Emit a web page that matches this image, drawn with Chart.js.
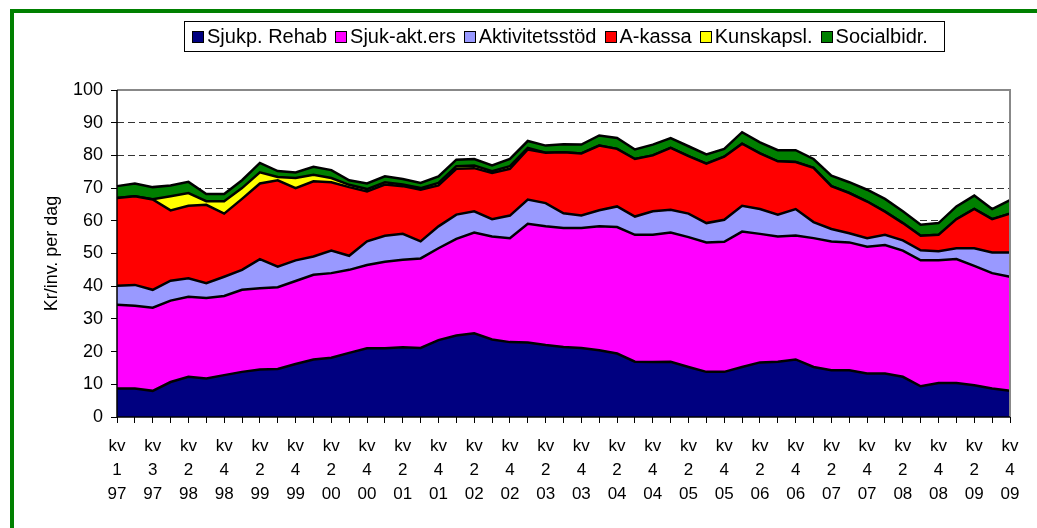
<!DOCTYPE html>
<html>
<head>
<meta charset="utf-8">
<script src="https://cdn.jsdelivr.net/npm/chart.js@4"></script>
<style>
  html, body { margin: 0; padding: 0; background: #fff; }
  body { width: 1037px; height: 528px; position: relative; overflow: hidden; font-family: 'Liberation Sans', Arial, sans-serif; }
  #frame { position: absolute; left: 10px; top: 9px; width: 1100px; height: 600px; border-left: 4px solid #008000; border-top: 4px solid #008000; }
  #wrap { position: absolute; left: 0; top: 0; width: 1037px; height: 528px; }
  #legend { position: absolute; left: 184px; top: 21px; width: 752px; height: 29px; border: 1px solid #000; display: flex; align-items: center; padding-left: 7px; box-sizing: content-box; }
  #legend .item { display: flex; align-items: center; margin-right: 8px; font-size: 20px; color: #000; white-space: nowrap; }
  #legend .sw { width: 10px; height: 10px; border: 1.5px solid #000; margin-right: 3px; }
</style>
</head>
<body>
<div id="frame"></div>
<div id="wrap"><canvas id="chart"></canvas></div>
<div id="legend"></div>
<script>
// quarters kv1 97 .. kv4 09 (kv1 98 missing in the source)
const quarters = [
  ['kv','1','97'], ['kv','2','97'], ['kv','3','97'], ['kv','4','97'],
  ['kv','2','98'], ['kv','3','98'], ['kv','4','98'],
  ['kv','1','99'], ['kv','2','99'], ['kv','3','99'], ['kv','4','99'],
  ['kv','1','00'], ['kv','2','00'], ['kv','3','00'], ['kv','4','00'],
  ['kv','1','01'], ['kv','2','01'], ['kv','3','01'], ['kv','4','01'],
  ['kv','1','02'], ['kv','2','02'], ['kv','3','02'], ['kv','4','02'],
  ['kv','1','03'], ['kv','2','03'], ['kv','3','03'], ['kv','4','03'],
  ['kv','1','04'], ['kv','2','04'], ['kv','3','04'], ['kv','4','04'],
  ['kv','1','05'], ['kv','2','05'], ['kv','3','05'], ['kv','4','05'],
  ['kv','1','06'], ['kv','2','06'], ['kv','3','06'], ['kv','4','06'],
  ['kv','1','07'], ['kv','2','07'], ['kv','3','07'], ['kv','4','07'],
  ['kv','1','08'], ['kv','2','08'], ['kv','3','08'], ['kv','4','08'],
  ['kv','1','09'], ['kv','2','09'], ['kv','3','09'], ['kv','4','09']
];

const seriesNames = ['Sjukp. Rehab', 'Sjuk-akt.ers', 'Aktivitetsstöd', 'A-kassa', 'Kunskapsl.', 'Socialbidr.'];
const seriesColors = ['#000080', '#ff00ff', '#9999ff', '#ff0000', '#ffff00', '#008000'];

const sjukpRehab = [8.7, 8.7, 8.0, 10.7, 12.3, 11.8, 12.8, 13.8, 14.5, 14.7, 16.2, 17.6, 18.1, 19.6, 21.0, 21.0, 21.3,
  21.1, 23.5, 24.9, 25.6, 23.7, 22.9, 22.8, 22.0, 21.4, 21.1, 20.4, 19.4, 16.9, 16.8, 16.9, 15.3, 13.8, 13.8, 15.3,
  16.7, 16.9, 17.6, 15.3, 14.3, 14.3, 13.3, 13.3, 12.3, 9.4, 10.4, 10.4, 9.7, 8.7, 8.0];
const sjukAktErs = [25.6, 25.3, 25.4, 24.9, 24.5, 24.6, 24.2, 25.1, 24.9, 25.0, 25.4, 25.9, 25.9, 25.4, 25.5, 26.5, 26.8,
  27.4, 28.1, 29.6, 30.8, 31.5, 31.8, 36.3, 36.3, 36.4, 36.7, 37.9, 38.7, 38.8, 38.9, 39.5, 39.7, 39.6, 39.8, 41.4,
  39.3, 38.3, 37.9, 39.4, 39.4, 39.1, 38.8, 39.3, 38.6, 38.5, 37.5, 37.9, 36.5, 35.3, 34.9];
const aktivitetsstod = [5.8, 6.4, 5.5, 6.1, 5.6, 4.5, 5.9, 6.1, 8.9, 6.3, 6.3, 5.6, 6.9, 4.3, 7.2, 7.9, 7.9,
  5.2, 6.7, 7.4, 6.5, 5.3, 6.9, 7.4, 7.1, 4.5, 3.8, 4.9, 6.3, 5.6, 7.2, 7.0, 7.2, 5.9, 6.7, 7.9,
  7.6, 6.7, 8.1, 4.9, 3.8, 2.8, 2.6, 3.1, 3.1, 3.1, 2.8, 3.3, 5.4, 6.3, 7.4];
const aKassa = [26.9, 27.1, 27.6, 21.5, 22.2, 24.0, 19.3, 21.7, 23.1, 26.4, 22.1, 23.0, 20.9, 21.0, 15.3, 15.7, 14.6,
  15.8, 12.5, 14.0, 13.2, 14.1, 14.3, 15.3, 15.4, 18.7, 19.0, 19.8, 17.6, 17.6, 17.1, 18.9, 17.6, 18.2, 19.3, 19.0,
  17.0, 16.3, 14.4, 16.6, 13.1, 12.3, 11.2, 7.1, 5.3, 4.4, 5.0, 8.9, 12.0, 10.2, 11.9];
const kunskapsl = [0, 0, 0.1, 4.3, 3.9, 1.1, 3.8, 3.3, 3.4, 1.0, 3.1, 2.0, 1.3, 0.7, 0.7, 0.7, 0.5,
  0.5, 0.8, 0.8, 0.8, 0.6, 0.8, 0.5, 0, 0, 0, 0, 0, 0, 0, 0, 0, 0, 0, 0,
  0, 0, 0, 0, 0, 0, 0, 0, 0, 0, 0, 0, 0, 0, 0];
const socialbidr = [3.6, 3.9, 3.7, 3.3, 3.4, 2.2, 2.2, 2.4, 2.9, 1.8, 1.7, 2.4, 2.4, 1.4, 1.7, 1.8, 1.7,
  1.6, 2.0, 2.0, 2.0, 1.7, 2.2, 2.1, 2.2, 2.4, 2.7, 3.1, 3.3, 2.9, 3.3, 3.0, 3.0, 2.8, 2.4, 3.5,
  3.4, 3.4, 3.6, 2.7, 3.2, 3.3, 3.6, 3.9, 3.6, 3.4, 3.6, 3.9, 4.1, 3.1, 4.1];

const yTicks = [0, 10, 20, 30, 40, 50, 60, 70, 80, 90, 100];
const yTitle = 'Kr/inv. per dag';
const FONT = "'Liberation Sans', Arial, sans-serif";

const allSeries = [sjukpRehab, sjukAktErs, aktivitetsstod, aKassa, kunskapsl, socialbidr];

// legend (html box like the excel one)
const legendEl = document.getElementById('legend');
seriesNames.forEach((name, i) => {
  const item = document.createElement('div');
  item.className = 'item';
  item.innerHTML = `<span class="sw" style="background:${seriesColors[i]}"></span>${name}`;
  legendEl.appendChild(item);
});

// plot frame: black left/bottom axis, grey top/right
const framePlugin = {
  id: 'plotFrame',
  afterDatasetsDraw(chart) {
    const { ctx, chartArea: a } = chart;
    ctx.save();
    ctx.lineWidth = 2;
    ctx.strokeStyle = '#888';
    ctx.beginPath();
    ctx.moveTo(a.left, a.top);
    ctx.lineTo(a.right, a.top);
    ctx.lineTo(a.right, a.bottom);
    ctx.stroke();
    ctx.strokeStyle = '#000';
    ctx.lineWidth = 1.5;
    ctx.beginPath();
    ctx.moveTo(a.left, a.top);
    ctx.lineTo(a.left, a.bottom);
    ctx.lineTo(a.right, a.bottom);
    ctx.stroke();
    ctx.restore();
  }
};

new Chart(document.getElementById('chart'), {
  type: 'line',
  data: {
    labels: quarters,
    datasets: allSeries.map((vals, i) => ({
      label: seriesNames[i],
      data: vals,
      backgroundColor: seriesColors[i],
      borderColor: '#000',
      borderWidth: 2.5,
      pointRadius: 0,
      tension: 0,
      fill: i === 0 ? 'origin' : '-1'
    }))
  },
  options: {
    responsive: true,
    maintainAspectRatio: false,
    animation: false,
    layout: { padding: { top: 90, right: 27, bottom: 0, left: 0 } },
    plugins: {
      legend: { display: false },
      tooltip: { enabled: false }
    },
    scales: {
      x: {
        offset: false,
        afterFit: s => { s.height = 111; },
        grid: { drawOnChartArea: false, drawTicks: true, tickLength: 6, color: '#000', lineWidth: 1 },
        border: { display: false },
        ticks: {
          autoSkip: false,
          maxRotation: 0,
          padding: 11,
          color: '#000',
          font: { family: FONT, size: 17, lineHeight: 1.42 },
          callback: (v, i) => (i % 2 === 0 ? quarters[i] : '')
        }
      },
      y: {
        stacked: true,
        min: 0,
        max: 100,
        afterFit: s => { s.width = 117; },
        afterBuildTicks: s => { s.ticks = yTicks.map(v => ({ value: v })); },
        grid: {
          drawTicks: true,
          tickLength: 6,
          tickColor: '#000',
          tickBorderDash: [],
          lineWidth: 1,
          color: c => (c.tick && (c.tick.value === 0 || c.tick.value === 100)) ? 'rgba(0,0,0,0)' : '#333'
        },
        border: { display: false, dash: [7, 4] },
        title: {
          display: true,
          text: yTitle,
          color: '#000',
          font: { family: FONT, size: 18 },
          padding: { top: 41, bottom: 0 }
        },
        ticks: {
          padding: 8,
          color: '#000',
          font: { family: FONT, size: 18 }
        }
      }
    }
  },
  plugins: [framePlugin]
});
</script>
</body>
</html>
